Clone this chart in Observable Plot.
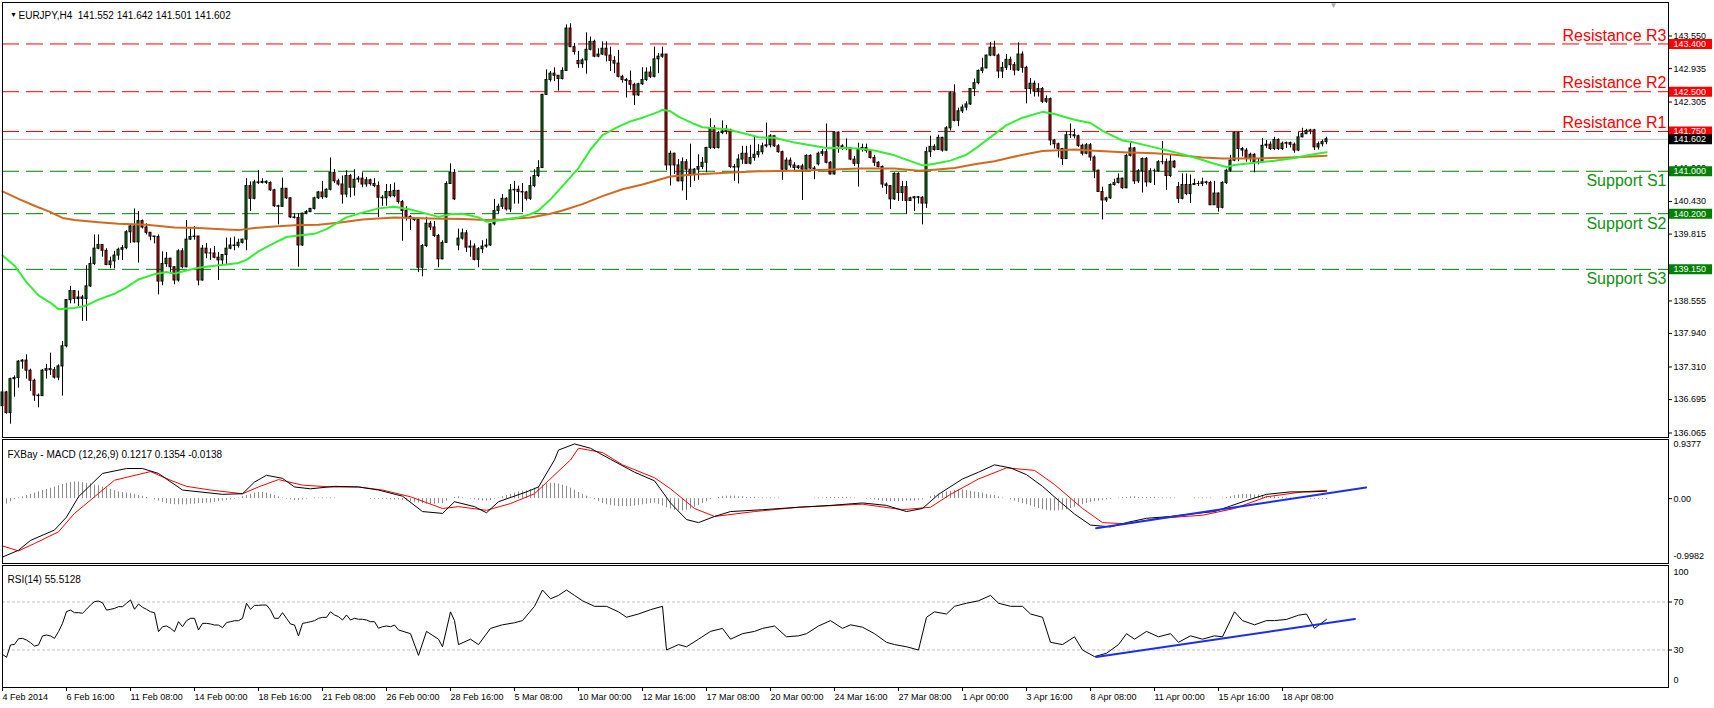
<!DOCTYPE html>
<html><head><meta charset="utf-8">
<script src="https://cdn.jsdelivr.net/npm/d3@7"></script>
<script src="https://cdn.jsdelivr.net/npm/@observablehq/plot@0.6"></script>
<style>
html,body{margin:0;padding:0;background:#fff;}
#chart{position:relative;width:1714px;height:708px;overflow:hidden;background:#fff;}
</style></head><body><div id="chart"></div>
<script>
// ---------------- DATA ----------------
const symbolTitle = "EURJPY,H4  141.552 141.642 141.501 141.602";
const macdTitle = "FXBay - MACD (12,26,9) 0.1217 0.1354 -0.0138";
const rsiTitle = "RSI(14) 55.5128";

const firstOpen = 136.57;
const gapOpens = {114: 139.60, 144: 143.08, 204: 141.13, 294: 140.70};

const closes = [
136.83,136.44,137.08,137.10,137.41,137.43,137.24,137.05,136.77,136.76,
137.24,137.27,137.25,137.11,137.32,137.70,138.57,138.74,138.59,138.62,
138.59,138.83,139.25,139.54,139.61,139.50,139.23,139.30,139.41,139.52,
139.55,139.85,139.96,139.66,140.06,139.94,139.84,139.77,139.76,138.92,
139.25,139.35,139.19,138.94,139.49,139.19,139.71,139.76,139.77,138.94,
139.54,139.45,139.45,139.37,139.32,139.42,139.54,139.60,139.59,139.65,
139.71,140.72,140.48,140.79,140.78,140.80,140.78,140.64,140.34,140.33,
140.67,140.49,140.13,140.12,139.60,140.20,140.23,140.29,140.49,140.60,
140.51,140.65,140.97,140.81,140.75,140.56,140.91,140.69,140.84,140.86,
140.75,140.83,140.76,140.72,140.50,140.49,140.61,140.53,140.63,140.42,
140.25,140.14,140.10,140.08,139.18,139.59,140.01,139.94,139.78,139.34,
139.65,140.76,140.97,140.47,139.73,139.83,139.56,139.58,139.33,139.53,
139.58,139.60,140.00,140.25,140.33,140.48,140.28,140.64,140.65,140.61,
140.60,140.48,140.72,140.91,141.06,142.44,142.72,142.84,142.80,142.74,
142.89,143.69,143.34,143.25,143.02,143.09,143.29,143.44,143.16,143.20,
143.31,143.18,143.08,143.03,142.78,142.72,142.70,142.63,142.43,142.64,
142.72,142.86,142.78,143.11,143.16,143.20,141.11,141.33,141.11,140.81,
141.17,141.03,140.93,141.03,141.08,141.16,141.44,141.81,141.44,141.72,
141.75,141.78,141.08,141.07,141.22,141.33,141.14,141.25,141.31,141.36,
141.47,141.49,141.66,141.47,141.36,141.03,141.20,141.11,141.06,141.09,
141.03,141.29,141.05,141.04,141.33,141.36,141.16,140.94,141.73,141.47,
141.44,141.43,141.22,141.14,141.41,141.44,141.38,141.25,141.16,141.08,
140.75,140.72,140.47,140.95,140.59,140.70,140.44,140.49,140.51,140.50,
140.39,141.36,141.46,141.40,141.63,141.39,141.81,142.47,141.95,142.13,
142.20,142.26,142.55,142.66,142.89,142.94,143.18,143.33,143.18,142.88,
142.95,143.10,143.00,142.90,143.20,142.95,142.55,142.65,142.50,142.55,
142.31,142.36,141.58,141.51,141.42,141.23,141.68,141.68,141.66,141.48,
141.33,141.49,141.26,141.01,140.61,140.45,140.49,140.74,140.78,140.86,
140.68,141.29,141.43,140.81,141.00,141.23,140.79,141.00,141.00,141.17,
141.17,140.91,141.18,141.07,140.48,140.74,140.57,140.74,140.76,140.76,
140.79,140.78,140.36,140.58,140.31,140.78,141.01,141.20,141.72,141.42,
141.39,141.23,141.31,141.17,141.17,141.48,141.50,141.42,141.59,141.42,
141.52,141.53,141.50,141.39,141.64,141.70,141.76,141.77,141.45,141.51,
141.55,141.602];

const highs = [
136.93,136.85,137.10,137.14,137.43,137.45,137.54,137.27,137.08,136.80,
137.26,137.36,137.57,137.30,137.35,137.79,138.58,138.83,138.75,138.74,
138.66,139.22,139.38,139.80,139.80,139.61,139.54,139.38,139.49,139.55,
139.60,139.88,139.99,140.29,140.24,140.08,140.01,139.84,139.77,139.80,
139.48,139.47,139.36,139.20,139.52,139.54,140.07,139.92,139.96,139.77,
139.60,139.64,139.54,139.58,139.47,139.43,139.74,139.74,139.76,139.72,
139.72,140.86,140.80,140.83,141.01,140.86,140.82,140.80,140.66,140.36,
140.87,140.67,140.50,140.20,140.20,140.21,140.26,140.30,140.51,140.62,
140.81,140.67,141.25,141.03,140.85,140.91,141.01,140.94,141.03,140.90,
140.97,140.88,140.85,140.86,140.80,140.54,140.75,140.75,140.78,140.64,
140.45,140.33,140.16,140.12,140.11,139.62,140.13,140.05,140.05,139.81,
139.69,140.80,141.14,141.03,139.91,139.91,139.88,139.69,139.63,139.56,
139.69,139.72,140.01,140.47,140.38,140.56,140.50,140.75,140.81,140.72,
140.77,140.62,140.89,141.03,141.20,142.45,142.91,142.88,142.95,142.80,
142.95,143.76,143.78,143.41,143.26,143.12,143.61,143.53,143.47,143.31,
143.44,143.44,143.34,143.16,143.28,142.81,142.75,142.89,142.66,142.66,
142.95,142.95,142.97,143.34,143.22,143.34,143.20,141.38,141.34,141.22,
141.25,141.22,141.51,141.05,141.31,141.26,141.45,141.99,141.86,141.75,
141.95,141.86,141.79,141.13,141.31,141.47,141.47,141.49,141.64,141.50,
141.53,141.91,141.69,141.66,141.50,141.38,141.25,141.25,141.16,141.11,
141.13,141.31,141.31,141.09,141.36,141.41,141.89,141.18,141.74,141.74,
141.50,141.61,141.44,141.28,141.53,141.51,141.51,141.39,141.30,141.18,
141.10,140.78,140.73,140.97,140.97,140.81,140.81,140.51,140.52,140.52,
140.52,141.45,141.66,141.50,141.68,141.64,141.84,142.50,142.63,142.19,
142.25,142.31,142.56,142.74,142.91,143.13,143.19,143.43,143.45,143.21,
143.05,143.20,143.15,143.05,143.42,143.25,142.98,142.75,142.70,142.65,
142.58,142.42,142.38,141.60,141.53,141.43,141.74,141.89,141.79,141.68,
141.51,141.52,141.52,141.29,141.02,140.70,140.51,140.76,140.85,140.95,
140.87,141.32,141.54,141.45,141.03,141.25,141.26,141.05,141.04,141.20,
141.56,141.23,141.30,141.20,140.79,140.95,140.95,140.93,140.85,140.81,
140.87,140.81,140.81,140.81,140.59,140.80,141.04,141.30,141.74,141.74,
141.45,141.43,141.34,141.33,141.23,141.62,141.58,141.55,141.64,141.61,
141.55,141.55,141.55,141.53,141.73,141.81,141.79,141.79,141.79,141.55,
141.59,141.642];

const lows = [
136.55,136.42,136.23,136.74,136.91,137.27,137.08,136.85,136.66,136.54,
136.76,137.08,137.15,137.08,137.05,136.76,137.67,138.50,138.50,138.45,
138.17,138.17,138.81,139.22,139.52,139.38,139.22,139.16,139.16,139.32,
139.32,139.52,139.64,139.65,139.27,139.91,139.80,139.69,139.63,138.67,
138.84,139.19,139.08,138.86,138.91,139.16,139.18,139.70,139.70,138.84,
138.93,139.35,139.32,139.35,138.94,139.23,139.23,139.52,139.50,139.55,
139.63,139.50,140.24,140.46,140.75,140.76,140.75,140.62,140.32,139.99,
140.32,140.47,140.11,140.10,139.19,139.58,140.18,140.22,140.27,140.47,
140.47,140.49,140.63,140.77,140.72,140.38,140.50,140.50,140.53,140.78,
140.69,140.70,140.72,140.69,140.13,140.34,140.34,140.50,140.50,140.38,
139.68,140.06,139.88,140.05,139.09,139.01,139.56,139.88,139.75,139.18,
139.33,139.64,140.75,140.45,139.50,139.70,139.47,139.38,139.31,139.18,
139.45,139.55,139.58,139.97,140.19,140.28,140.25,140.22,140.38,140.38,
140.22,140.44,140.45,140.69,140.88,141.05,142.43,142.68,142.69,142.51,
142.72,142.88,143.33,143.19,142.94,142.94,142.83,143.27,143.14,143.14,
143.18,143.06,142.88,142.84,142.76,142.66,142.38,142.53,142.24,142.41,
142.62,142.69,142.75,142.76,142.84,143.13,141.01,140.72,140.94,140.80,
140.63,140.45,140.69,140.81,140.83,141.03,140.97,141.41,141.41,141.42,
141.69,141.69,141.05,140.81,140.76,141.13,141.13,141.12,141.19,141.25,
141.31,141.44,141.44,141.45,141.34,140.83,141.00,141.06,141.01,141.03,
140.45,141.00,141.03,140.84,141.10,141.28,141.14,140.93,140.93,141.34,
141.39,141.39,141.20,141.09,140.70,141.36,141.34,141.23,141.09,141.06,
140.68,140.56,140.28,140.45,140.43,140.43,140.19,140.43,140.24,140.38,
139.99,140.30,141.26,141.38,141.39,141.36,141.38,141.76,141.93,141.84,
142.09,142.14,142.24,142.41,142.63,142.84,142.93,143.16,143.16,142.75,
142.75,142.90,142.90,142.80,142.88,142.85,142.27,142.45,142.40,142.40,
142.28,142.28,141.48,141.42,141.25,141.11,141.22,141.62,141.61,141.45,
141.29,141.31,141.19,140.86,140.60,140.08,140.41,140.47,140.72,140.76,
140.66,140.67,141.27,140.75,140.77,140.59,140.70,140.77,140.73,140.98,
141.12,140.64,140.88,141.05,140.39,140.46,140.54,140.39,140.73,140.71,
140.71,140.74,140.35,140.36,140.23,140.29,140.75,140.98,141.18,141.18,
141.27,141.17,141.17,140.97,141.12,141.16,141.43,141.39,141.39,141.39,
141.39,141.43,141.44,141.34,141.37,141.63,141.69,141.69,141.39,141.40,
141.46,141.501];

// moving averages (bar index, value)
const greenBars = [0,3,6,9,12,14,18,21,24,28,31,34,38,41,43,46,49,53,56,59,61,64,68,71,74,78,81,84,86,90,94,98,102,105,109,112,115,119,121,125,129,132,134,137,140,144,147,150,154,157,160,164,165,167,169,173,175,181,185,189,193,198,202,206,210,214,218,223,227,230,233,237,241,244,248,251,255,260,263,268,272,275,280,283,288,293,298,303,306,308,313,318,323,327,331];
const greenVals = [139.41,139.22,138.91,138.66,138.52,138.40,138.42,138.47,138.58,138.69,138.81,138.96,139.06,139.10,139.07,139.13,139.18,139.22,139.24,139.27,139.33,139.49,139.65,139.76,139.79,139.82,139.91,140.04,140.13,140.22,140.30,140.33,140.28,140.22,140.14,140.19,140.20,140.13,140.05,140.08,140.13,140.19,140.26,140.47,140.72,141.06,141.41,141.68,141.84,141.94,142.01,142.12,142.16,142.13,142.03,141.89,141.83,141.79,141.72,141.64,141.63,141.54,141.49,141.44,141.44,141.43,141.39,141.30,141.19,141.11,141.14,141.20,141.31,141.47,141.70,141.87,142.01,142.12,142.08,141.97,141.91,141.76,141.58,141.54,141.45,141.36,141.26,141.14,141.08,141.12,141.16,141.20,141.25,141.31,141.36];
const orangeBars = [0,4,8,12,15,18,24,29,36,43,49,56,59,63,68,73,79,84,90,98,107,115,121,125,132,137,140,145,150,155,160,165,167,173,181,189,198,206,214,223,229,233,238,243,248,252,257,260,268,272,280,288,293,300,305,313,322,331];
const orangeVals = [140.62,140.48,140.35,140.23,140.12,140.08,140.04,140.01,139.99,139.94,139.93,139.90,139.89,139.93,139.96,139.98,139.99,140.03,140.09,140.13,140.11,140.10,140.08,140.09,140.13,140.20,140.26,140.38,140.53,140.66,140.75,140.86,140.90,140.94,140.97,141.00,141.01,141.03,141.05,141.05,141.01,141.03,141.06,141.13,141.19,141.26,141.34,141.38,141.41,141.39,141.36,141.34,141.31,141.26,141.24,141.24,141.26,141.29];

// horizontal levels
const levelNames = ["Resistance R3","Resistance R2","Resistance R1","Support S1","Support S2","Support S3"];
const levelValues = [143.40,142.50,141.75,141.00,140.20,139.15];
const levelKinds = ["r","r","r","s","s","s"];
const priceTicks = [143.550,142.935,142.305,141.060,140.430,139.815,138.555,137.940,137.310,136.695,136.065];

// MACD (bar index, value)
const macdBars = [0,4,7,13,16,19,25,31,35,39,45,55,60,63,66,70,73,77,83,89,94,100,105,110,113,118,121,124,131,134,138,139,143,147,152,158,163,167,171,174,178,182,190,199,207,215,221,226,230,234,240,244,248,252,256,260,264,268,272,277,281,286,292,297,303,307,311,316,322,327,331];
const macdVals = [-0.95,-0.84,-0.68,-0.51,-0.30,0.03,0.41,0.49,0.49,0.41,0.14,0.07,0.08,0.27,0.38,0.33,0.19,0.16,0.20,0.19,0.14,0.04,-0.21,-0.24,-0.05,-0.13,-0.23,-0.05,0.11,0.19,0.63,0.79,0.89,0.82,0.64,0.43,0.29,-0.07,-0.34,-0.39,-0.29,-0.21,-0.18,-0.14,-0.11,-0.07,-0.11,-0.21,-0.16,0.07,0.32,0.43,0.55,0.50,0.39,0.20,-0.03,-0.25,-0.43,-0.46,-0.39,-0.32,-0.29,-0.25,-0.21,-0.12,-0.03,0.07,0.11,0.11,0.1217];
const signalBars = [0,4,8,14,18,23,28,37,42,46,52,60,64,69,75,82,89,95,102,110,114,121,127,133,142,144,150,155,163,167,173,178,188,199,215,225,232,237,244,251,258,263,270,275,281,289,300,308,316,325,331];
const signalVals = [-0.77,-0.85,-0.73,-0.54,-0.24,0.03,0.30,0.44,0.30,0.20,0.14,0.08,0.19,0.31,0.22,0.19,0.19,0.14,0.03,-0.16,-0.13,-0.19,-0.08,0.08,0.63,0.82,0.75,0.55,0.34,0.16,-0.16,-0.29,-0.21,-0.14,-0.09,-0.18,-0.14,0.07,0.32,0.50,0.46,0.23,-0.16,-0.39,-0.41,-0.32,-0.27,-0.16,0.03,0.11,0.1354];
const macdHist = [
-0.12,-0.09,-0.05,-0.02,
0.01,0.03,0.05,0.07,0.09,0.11,0.13,
0.15,0.17,0.19,0.21,0.23,0.25,0.26,0.27,0.27,0.26,
0.25,0.24,0.22,0.21,0.19,0.17,0.15,0.13,0.11,0.10,
0.09,0.08,0.07,0.05,0.04,0.02,0.00,-0.02,-0.04,-0.06,
-0.08,-0.09,-0.10,-0.10,-0.10,-0.10,-0.09,-0.09,-0.08,-0.08,
-0.07,-0.07,-0.06,-0.05,-0.04,-0.03,-0.02,-0.01,0.01,0.03,
0.05,0.07,0.09,0.10,0.10,0.09,0.07,0.05,0.03,0.01,
-0.01,-0.02,-0.03,-0.03,-0.02,-0.01,0.00,0.01,0.01,0.01,
0.01,0.01,0.01,0.00,0.00,0.00,0.00,0.00,0.00,0.00,
0.00,-0.01,-0.01,-0.01,-0.01,-0.01,-0.02,-0.02,-0.02,-0.03,
-0.04,-0.05,-0.06,-0.07,-0.08,-0.09,-0.09,-0.09,-0.08,-0.08,
-0.04,0.00,0.02,0.03,0.01,0.00,-0.01,-0.02,-0.03,-0.04,
-0.04,-0.03,-0.01,0.01,0.03,0.05,0.07,0.09,0.11,0.12,
0.13,0.15,0.17,0.19,0.22,0.24,0.25,0.25,0.24,0.22,
0.20,0.17,0.14,0.10,0.07,0.04,0.01,-0.02,-0.05,-0.08,
-0.10,-0.11,-0.12,-0.13,-0.13,-0.13,-0.13,-0.12,-0.11,-0.10,
-0.09,-0.08,-0.07,-0.09,-0.12,-0.15,-0.17,-0.19,-0.20,-0.20,
-0.19,-0.17,-0.14,-0.11,-0.08,-0.05,-0.02,0.00,0.02,0.03,
0.04,0.04,0.04,0.03,0.03,0.02,0.02,0.02,0.01,0.01,
0.01,0.01,0.01,0.01,0.00,0.00,0.00,0.00,0.00,0.00,
0.00,0.00,0.01,0.01,0.01,0.02,0.02,0.02,0.02,0.02,
0.02,0.01,0.01,0.00,0.00,-0.01,-0.01,-0.02,-0.03,-0.04,
-0.05,-0.05,-0.05,-0.05,-0.05,-0.04,-0.04,-0.04,-0.03,-0.02,
0.00,0.03,0.05,0.07,0.09,0.11,0.12,0.13,0.14,0.14,
0.13,0.12,0.11,0.10,0.09,0.07,0.06,0.05,0.03,0.01,
0.00,-0.02,-0.04,-0.06,-0.08,-0.10,-0.12,-0.14,-0.16,-0.18,
-0.19,-0.20,-0.20,-0.20,-0.19,-0.18,-0.16,-0.14,-0.12,-0.10,
-0.08,-0.06,-0.05,-0.04,-0.03,-0.02,-0.01,0.00,0.01,0.02,
0.02,0.03,0.03,0.02,0.02,0.02,0.02,0.02,0.01,0.01,
0.01,0.01,0.01,0.00,0.00,0.00,0.00,0.01,0.01,0.01,
0.01,0.01,0.00,0.00,0.01,0.02,0.03,0.05,0.06,0.07,
0.07,0.07,0.06,0.06,0.05,0.04,0.03,0.03,0.02,0.02,
0.01,0.01,0.00,0.00,0.00,0.00,-0.01,-0.01,-0.01,-0.01,-0.0138];
const macdTrendBars = [273.4, 340.9];
const macdTrendVals = [-0.48, 0.18];

// RSI (bar index, value)
const rsiBars = d3.range(100).concat([102,104,106,109,110,112,113,114,117,119,122,125,128,130,133,135,137,139,141,143,145,148,151,154,156,159,162,165,166,169,171,174,177,180,182,185,188,190,193,196,199,201,204,207,210,212,215,218,221,223,226,229,231,233,236,238,241,244,247,249,252,255,257,260,262,265,268,270,273,276,279,281,283,286,289,292,294,297,300,303,305,308,310,313,316,318,321,324,326,328,331]);
const rsiVals = [
26.4,23.9,34.2,34.7,39.4,39.7,38.3,36.1,33.3,34.2,41.7,42.5,41.7,39.7,45.3,52.2,62.0,63.3,61.1,61.1,
60.6,63.9,67.5,70.3,70.8,69.4,63.3,63.9,64.7,66.1,66.1,68.9,71.7,63.9,68.3,65.6,63.9,61.9,61.1,45.3,
49.4,50.0,48.1,45.3,53.6,49.4,54.4,56.4,56.4,46.7,52.2,52.2,51.7,50.8,50.8,48.6,52.8,53.6,54.4,54.4,
56.4,68.9,63.9,67.2,67.2,67.5,67.5,63.3,56.4,56.4,61.1,56.4,51.7,50.8,41.7,52.2,52.8,53.6,54.4,56.4,
57.2,57.2,61.9,59.2,57.8,55.0,59.2,55.0,56.4,55.6,55.6,55.0,53.6,53.6,48.1,49.4,50.0,49.4,50.8,46.7,
43.6,25.5,45.5,39,32.7,61.8,54.5,34.5,39,34.5,48,51,52.7,54.5,66.4,80,72.7,75.5,80,75.5,
71,66.4,66.4,61.8,57.3,60,63.6,66.4,30,34.5,32.7,39,45.5,48,39,43.6,45.5,48,50,41,
41.8,43.6,50,54.5,48,51,49,43.6,36.4,34.5,32.7,30,57.3,61.8,60,66.4,69,71,75.5,69,
66.4,66.4,60,57.3,36.4,34.5,41,30,24.5,27.3,34.5,43.6,39,45.5,41,43.6,36.4,41.8,39,41.8,
41,61.8,54.5,51,54.5,54.5,55.5,59,60,48,55.51];
const rsiTrendBars = [273.4, 338.1];
const rsiTrendVals = [24.2, 55.8];

const timeTicks = d3.range(0, 321, 16);
const timeLabels = ["4 Feb 2014","6 Feb 16:00","11 Feb 08:00","14 Feb 00:00","18 Feb 16:00","21 Feb 08:00","26 Feb 00:00","28 Feb 16:00","5 Mar 08:00","10 Mar 00:00","12 Mar 16:00","17 Mar 08:00","20 Mar 00:00","24 Mar 16:00","27 Mar 08:00","1 Apr 00:00","3 Apr 16:00","8 Apr 08:00","11 Apr 00:00","15 Apr 16:00","18 Apr 08:00"];

// ---------------- BUILD ----------------
const W = 1714;
const FONT = "'Liberation Sans', Arial, sans-serif";
const XS = {domain: [0, 416], range: [2, 1666]};
const fmt3 = d3.format(".3f");
const lastClose = closes[closes.length - 1];

const candles = closes.map((c, i) => ({
  i, c, h: highs[i], l: lows[i],
  o: i === 0 ? firstOpen : (gapOpens[i] !== undefined ? gapOpens[i] : closes[i - 1])
}));
const PX = 53.04; // px per price unit in the main panel
const bodyLo = d => Math.min(d.o, d.c), bodyHi = d => Math.max(d.o, d.c);

const pts = (bars, vals) => bars.map((b, k) => ({b, v: vals[k]}));
const levels = levelNames.map((name, k) => ({name, v: levelValues[k], kind: levelKinds[k]}));
const levelColor = d => d.kind === "r" ? "#ff0000" : "#008000";
const boxes = levels.map(d => ({v: d.v, col: levelColor(d)})).concat([{v: lastClose, col: "#000000"}]);

const baseStyle = {fontFamily: FONT, fontSize: "9px", background: "transparent", overflow: "visible", color: "black"};

function mount(svg, top) {
  svg.style.position = "absolute";
  svg.style.left = "0px";
  svg.style.top = top + "px";
  document.getElementById("chart").appendChild(svg);
}

// Main price panel
const mainPlot = Plot.plot({
  width: W, height: 438, marginLeft: 2, marginRight: 46, marginTop: 2, marginBottom: 1,
  style: baseStyle,
  x: {...XS, axis: null},
  y: {domain: [136.065, 143.55], range: [432.5, 35.5]},
  color: {type: "identity"},
  marks: [
    Plot.ruleY([lastClose], {stroke: "#c0c0c0"}),
    Plot.ruleY(levels, {y: "v", stroke: levelColor, strokeDasharray: "17,7"}),
    Plot.text(levels.filter(d => d.kind === "r"), {x: 416, y: "v", text: "name", textAnchor: "end", dy: -8.5, fill: "#ff0000", fontSize: 16, fontFamily: FONT}),
    Plot.text(levels.filter(d => d.kind === "s"), {x: 416, y: "v", text: "name", textAnchor: "end", dy: 10, fill: "#119111", fontSize: 16, fontFamily: FONT}),
    Plot.ruleX(candles, {x: "i", y1: "l", y2: "h", stroke: "black"}),
    Plot.rect(candles, {x1: d => d.i - 0.375, x2: d => d.i + 0.375, y1: bodyLo, y2: bodyHi, fill: "black", insetTop: -0.5, insetBottom: -0.5}),
    Plot.rect(candles.filter(d => (bodyHi(d) - bodyLo(d)) * PX > 1.5), {x1: d => d.i - 0.125, x2: d => d.i + 0.125, y1: bodyLo, y2: bodyHi, fill: d => d.c >= d.o ? "#0d8c0d" : "#ff0000", insetTop: 0.5, insetBottom: 0.5}),
    Plot.line(pts(orangeBars, orangeVals), {x: "b", y: "v", stroke: "#d2691e", strokeWidth: 2}),
    Plot.line(pts(greenBars, greenVals), {x: "b", y: "v", stroke: "#33ee33", strokeWidth: 2}),
    Plot.axisY(priceTicks, {anchor: "right", tickSize: 3, tickPadding: 2, tickFormat: fmt3, fontSize: 9, label: null}),
    Plot.ruleY(boxes, {y: "v", x1: 416.75, x2: 427.5, stroke: "col", strokeWidth: 10}),
    Plot.text(boxes, {x: 417.75, y: "v", text: d => fmt3(d.v), fill: "white", textAnchor: "start", fontSize: 9}),
    Plot.text(["\u25BC"], {x: 332.75, y: 144.12, text: d => d, fill: "#a8a8a8", fontSize: 8}),
    Plot.text(["\u25BC"], {frameAnchor: "top-left", text: d => d, dx: 7.5, dy: 10, fontSize: 7, fill: "black"}),
    Plot.text([symbolTitle], {frameAnchor: "top-left", text: d => d, dx: 16, dy: 9.8, textAnchor: "start", fontSize: 10, fill: "black"}),
    Plot.frame({stroke: "black"})
  ]
});
mount(mainPlot, 0);

// MACD panel
const macdPlot = Plot.plot({
  width: W, height: 126, marginLeft: 2, marginRight: 46, marginTop: 1, marginBottom: 1,
  style: baseStyle,
  x: {...XS, axis: null},
  y: {domain: [-0.9982, 0.9377], range: [121.5, 2.5]},
  marks: [
    Plot.ruleX(macdHist.map((v, i) => ({i, v})), {x: "i", y1: 0, y2: "v", stroke: "#8c8c8c"}),
    Plot.line(pts(signalBars, signalVals), {x: "b", y: "v", stroke: "#ff0000", strokeWidth: 1}),
    Plot.line(pts(macdBars, macdVals), {x: "b", y: "v", stroke: "black", strokeWidth: 1}),
    Plot.line(pts(macdTrendBars, macdTrendVals), {x: "b", y: "v", stroke: "#1a2ef0", strokeWidth: 2}),
    Plot.axisY([0], {anchor: "right", tickSize: 3, tickPadding: 2, tickFormat: d3.format(".2f"), fontSize: 9, label: null}),
    Plot.text([0.9377], {x: 417.75, y: d => d, text: d => "0.9377", textAnchor: "start", dy: 3, fontSize: 9, fill: "black"}),
    Plot.text([-0.9982], {x: 417.75, y: d => d, text: d => "-0.9982", textAnchor: "start", dy: -3.5, fontSize: 9, fill: "black"}),
    Plot.text([macdTitle], {frameAnchor: "top-left", text: d => d, dx: 5, dy: 11.5, textAnchor: "start", fontSize: 10, fill: "black"}),
    Plot.frame({stroke: "black"})
  ]
});
mount(macdPlot, 438);

// RSI panel (with time axis)
const rsiPlot = Plot.plot({
  width: W, height: 144, marginLeft: 2, marginRight: 46, marginTop: 1, marginBottom: 21,
  style: baseStyle,
  x: {...XS},
  y: {domain: [0, 100], range: [121.5, 1.5]},
  marks: [
    Plot.ruleY([70, 30], {stroke: "#c0c0c0", strokeDasharray: "3,2"}),
    Plot.line(pts(rsiBars, rsiVals), {x: "b", y: "v", stroke: "black", strokeWidth: 1}),
    Plot.line(pts(rsiTrendBars, rsiTrendVals), {x: "b", y: "v", stroke: "#1a2ef0", strokeWidth: 2}),
    Plot.axisY([70, 30], {anchor: "right", tickSize: 3, tickPadding: 2, fontSize: 9, label: null}),
    Plot.text([100], {x: 417.75, y: d => d, text: d => "100", textAnchor: "start", dy: 6, fontSize: 9, fill: "black"}),
    Plot.text([0], {x: 417.75, y: d => d, text: d => "0", textAnchor: "start", dy: -6, fontSize: 9, fill: "black"}),
    Plot.axisX(timeTicks, {anchor: "bottom", tickSize: 4, tickPadding: 2, textAnchor: "start", fontSize: 9, label: null, tickFormat: d => timeLabels[timeTicks.indexOf(d)]}),
    Plot.text([rsiTitle], {frameAnchor: "top-left", text: d => d, dx: 5, dy: 10, textAnchor: "start", fontSize: 10, fill: "black"}),
    Plot.frame({stroke: "black"})
  ]
});
mount(rsiPlot, 564);
</script></body></html>
